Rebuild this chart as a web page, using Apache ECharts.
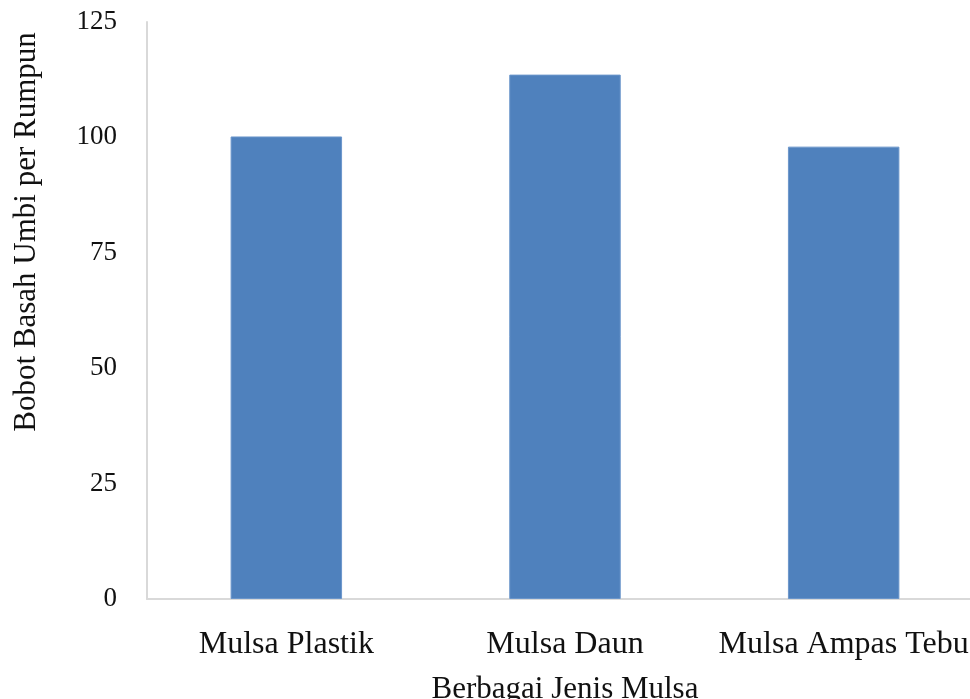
<!DOCTYPE html>
<html>
<head>
<meta charset="utf-8">
<script src="https://cdn.jsdelivr.net/npm/echarts@6/dist/echarts.min.js"></script>
<style>
  html, body { margin: 0; padding: 0; background: #fff; overflow: hidden; width: 970px; height: 699px; }
  #chart { width: 1000px; height: 699px; }
</style>
</head>
<body>
<div id="chart"></div>
<script>
// Bobot basah umbi per rumpun untuk tiap jenis mulsa
const categories = ['Mulsa Plastik', 'Mulsa Daun', 'Mulsa Ampas Tebu'];
const bobotBasah = [100.2, 113.6, 98.0];
const yTicks = { min: 0, max: 125, interval: 25 };

const xTitle = 'Berbagai Jenis Mulsa';
const yTitle = 'Bobot Basah Umbi per Rumpun';

const font = '"Liberation Serif", "Times New Roman", serif';
const textColor = '#111';
const axisGray = '#d9d9d9';

const chart = echarts.init(document.getElementById('chart'), null, { renderer: 'canvas' });

chart.setOption({
  animation: false,
  backgroundColor: '#fff',
  grid: { left: 147, right: 17, top: 22, bottom: 100, containLabel: false, outerBoundsMode: 'none' },
  xAxis: {
    type: 'category',
    data: categories,
    axisLine: { show: true, lineStyle: { color: axisGray, width: 2 } },
    axisTick: { show: false },
    axisLabel: { color: textColor, fontFamily: font, fontSize: 32, margin: 30, interval: 0, hideOverlap: false },
    name: xTitle,
    nameLocation: 'middle',
    nameGap: 75,
    nameTextStyle: { color: textColor, fontFamily: font, fontSize: 31 }
  },
  yAxis: {
    type: 'value',
    min: yTicks.min,
    max: yTicks.max,
    interval: yTicks.interval,
    axisLine: { show: true, lineStyle: { color: axisGray, width: 2 } },
    axisTick: { show: false },
    splitLine: { show: false },
    axisLabel: { color: textColor, fontFamily: font, fontSize: 27, margin: 30 }
  },
  graphic: [{
    type: 'text',
    x: 27,
    y: 232,
    rotation: Math.PI / 2,
    style: {
      text: yTitle,
      font: '31px ' + font,
      fill: textColor,
      textAlign: 'center',
      textVerticalAlign: 'middle'
    }
  }],
  series: [{
    type: 'bar',
    data: bobotBasah,
    barWidth: '40%',
    itemStyle: { color: '#4f81bd', borderColor: '#6b96cb', borderWidth: 1 }
  }]
});
</script>
</body>
</html>
